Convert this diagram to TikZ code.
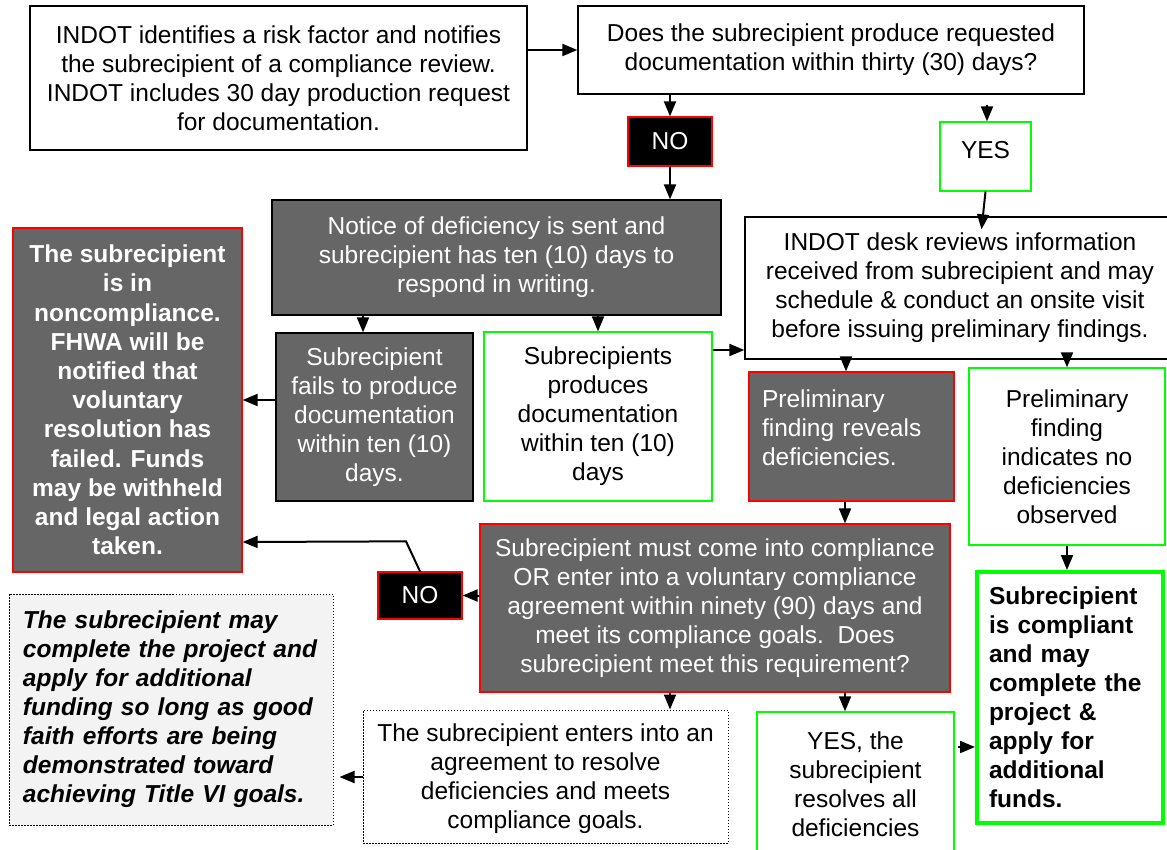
\documentclass[tikz,border=0pt]{standalone}
\usepackage{fontspec}
\setmainfont{Liberation Sans}
\usetikzlibrary{arrows.meta,calc}
\definecolor{dk}{HTML}{666666}
\definecolor{rd}{HTML}{FF0000}
\definecolor{gn}{HTML}{00FF00}
\definecolor{lg}{HTML}{F3F3F3}
\tikzset{
  base/.style={rectangle, font=\fontsize{24.5}{29}\selectfont, align=center, line width=1.3pt, inner sep=2pt},
  wbox/.style={base, draw=black, fill=white},
  dbox/.style={base, draw=black, fill=dk, text=white},
  rbox/.style={base, draw=rd, fill=dk, text=white},
  gbox/.style={base, draw=gn, fill=white},
  nobox/.style={base, draw=rd, fill=black, text=white},
  dotbox/.style={base, draw=black, line width=1pt, dash pattern=on 1.5pt off 1.5pt},
  sz/.style 2 args={minimum width=#1pt, minimum height=#2pt},
  arr/.style={draw, line width=2pt, -{Triangle[length=15pt 0 0,width=12pt 0 0]}},
}
\begin{document}
\begin{tikzpicture}[x=1pt,y=-1pt]
\fill[white] (0,0) rectangle (1167,850);
\useasboundingbox (0,0) rectangle (1167,850);

\node[wbox, sz={497}{144}] (a) at (278.5,78) {INDOT identifies a risk factor and notifies\\the subrecipient of a compliance review.\\INDOT includes 30 day production request\\for documentation.};
\node[wbox, sz={506}{88}] (b) at (831,50) {Does the subrecipient produce requested\\documentation within thirty (30) days?};
\node[nobox, sz={84}{49}] (no1) at (670,141.5) {NO};
\node[gbox, sz={91}{69}] (yes1) at (985.5,156.5) {YES\rule[-14pt]{0pt}{0pt}};
\node[dbox, sz={449}{115}] (notice) at (496.5,257.5) {Notice of deficiency is sent and\\subrecipient has ten (10) days to\\respond in writing.};
\node[wbox, sz={430}{142}] (desk) at (960,288) {INDOT desk reviews information\\received from subrecipient and may\\schedule \& conduct an onsite visit\\before issuing preliminary findings.};
\node[gbox, sz={196}{177}] (prelimno) at (1067,456.5) {Preliminary\\finding\\indicates no\\deficiencies\\observed};
\node[rbox, sz={229}{344}, font=\fontsize{24.5}{29.2}\selectfont\bfseries] (noncomp) at (127.5,400) {The subrecipient\\is in\\noncompliance.\\FHWA will be\\notified that\\voluntary\\resolution has\\failed. Funds\\may be withheld\\and legal action\\taken.};
\node[dbox, sz={197}{168}] (fails) at (374.5,417) {Subrecipient\\fails to produce\\documentation\\within ten (10)\\days.};
\node[gbox, sz={228}{169}] (subr) at (598,416.5) {Subrecipients\\produces\\documentation\\within ten (10)\\days};
\node[rbox, sz={205}{129}, text width=179pt, align=left] (reveals) at (851.5,436.5) {Preliminary\\finding reveals\\deficiencies.\rule[-18pt]{0pt}{0pt}};
\node[rbox, sz={470}{168}] (compliance) at (715,608) {Subrecipient must come into compliance\\OR enter into a voluntary compliance\\agreement within ninety (90) days and\\meet its compliance goals.\ \ Does\\subrecipient meet this requirement?};
\node[nobox, sz={84}{47}] (no2) at (420,595.5) {NO};
\node[dotbox, fill=lg, sz={324}{231}, text width=296pt, align=left, font=\fontsize{24.5}{29}\selectfont\bfseries\itshape] (note) at (171,709.5) {The subrecipient may\\complete the project and\\apply for additional\\funding so long as good\\faith efforts are being\\demonstrated toward\\achieving Title VI goals.};
\node[dotbox, fill=white, sz={365}{133}] (agreement) at (545.5,776.5) {\rule{0pt}{22pt}The subrecipient enters into an\\agreement to resolve\\deficiencies and meets\\compliance goals.};
\node[gbox, sz={197}{144}] (yes2) at (855.5,784) {YES, the\\subrecipient\\resolves all\\deficiencies};
\node[base, draw=gn, fill=white, line width=4pt, sz={186}{251}, text width=162pt, align=left, font=\fontsize{24.5}{29}\selectfont\bfseries] (final) at (1070,697.5) {Subrecipient\\is compliant\\and may\\complete the\\project \&\\apply for\\additional\\funds.};

% connectors
\draw[arr] (a.east |- b.west) -- (b.west);
\draw[arr] (b.south -| no1.north) -- (no1.north);
\draw[arr, shorten <=10pt] (b.south -| 987,0) -- (yes1.north -| 987,0);
\draw[arr] (no1.south) -- (notice.north -| no1.south);
\draw[arr] (yes1.south) -- ($(desk.north -| yes1.south)+(-4,13)$);
\draw[arr] (notice.south -| 363,0) -- (fails.north -| 363,0);
\draw[arr] (notice.south -| subr.north) -- (subr.north);
\draw[arr] (fails.west |- noncomp.east) -- (noncomp.east);
\draw[arr] (subr.east |- 0,350) -- (desk.west |- 0,350);
\draw[arr] (desk.south -| 846,0) -- (reveals.north -| 846,0);
\draw[arr] (desk.south -| prelimno.north) -- (prelimno.north);
\draw[arr] (reveals.south -| 845,0) -- (compliance.north -| 845,0);
\draw[arr] (prelimno.south) -- (final.north -| prelimno.south);
\draw[arr] (compliance.west |- no2.east) -- (no2.east);
\draw[arr] (no2.north) -- ++(-14,-30) -- (noncomp.east |- 0,542);
\draw[arr] (compliance.south -| 670,0) -- (agreement.north -| 670,0);
\draw[arr] (compliance.south -| 845,0) -- (yes2.north -| 845,0);
\draw[arr, shorten >=6pt] (agreement.west |- 0,777) -- (note.east |- 0,777);
\draw[arr, shorten <=3pt] (yes2.east |- 0,747) -- (final.west |- 0,747);
\end{tikzpicture}
\end{document}
